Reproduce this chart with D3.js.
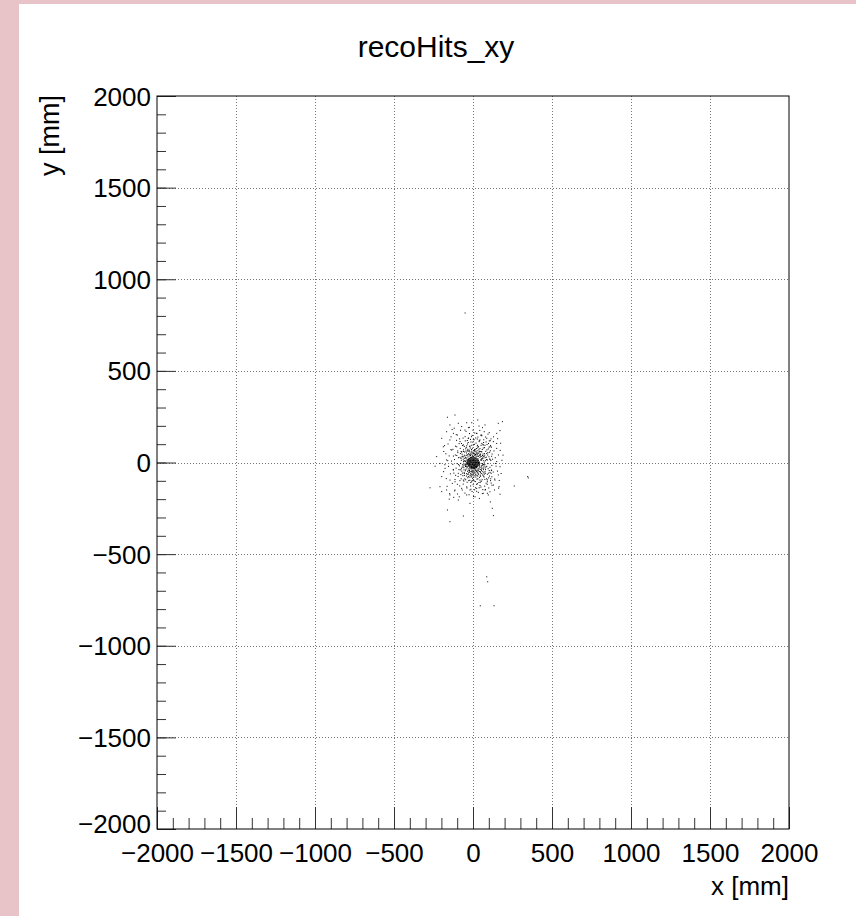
<!DOCTYPE html>
<html>
<head>
<meta charset="utf-8">
<script src="https://cdn.jsdelivr.net/npm/d3@7"></script>
<style>
  body { margin: 0; background: #fff; }
  svg text { font-family: "Liberation Sans", Arial, Helvetica, sans-serif; fill: #000; }
</style>
</head>
<body>
<div id="chart"></div>
<script>
// axis tick labels (mm)
var xTicks = [-2000, -1500, -1000, -500, 0, 500, 1000, 1500, 2000];
var yTicks = [-2000, -1500, -1000, -500, 0, 500, 1000, 1500, 2000];

// hits, [x mm, y mm]
// outer ring of the cluster
var ringHits = [
  [-162,247],[-114,259],[30,232],[186,223],[-93,214],[-40,217],[-8,217],[-146,205],
  [-72,196],[-23,192],[38,199],[76,205],[160,214],[-167,168],[-124,159],[-99,150],
  [-51,177],[23,159],[55,150],[103,163],[150,159],[171,174],[-198,132],[-146,123],
  [-82,114],[-30,132],[2,126],[44,123],[87,132],[129,114],[175,105],[-188,86],
  [-135,68],[-103,86],[-61,96],[-19,90],[27,90],[65,96],[108,86],[150,77],
  [-230,32],[-209,-5],[-167,14],[-124,35],[-82,28],[70,32],[108,17],[150,5],
  [171,-23],[-177,-32],[-124,-41],[-93,-59],[76,-50],[118,-41],[160,-68],[-198,-77],
  [-146,-96],[-114,-105],[-61,-96],[-8,-105],[44,-96],[91,-105],[139,-96],[-272,-138],
  [-209,-132],[-167,-150],[-114,-150],[-72,-141],[-19,-150],[23,-141],[76,-150],[129,-123],
  [165,-132],[-198,-159],[-146,-177],[-87,-187],[-40,-177],[13,-187],[65,-168],[97,-177],
  [171,-173],[-93,-205],[40,-196],[91,-168],[-162,-259],[-61,-292],[-146,-323],[122,-250],
  [129,-290],[-19,-223],[-240,-20],[-185,60],[190,40],[-150,-200],[110,-215],[60,190],
  [-178,-12],[-172,48],[-169,-88],[-158,101],[-155,-21],[-151,36],[-143,-62],[-139,140],
  [-136,8],[-131,-114],[-127,72],[-125,-38],[-119,187],[-116,-155],[-110,-70],[-106,152],
  [-103,38],[-98,-172],[-91,-11],[-88,103],[-84,-128],[-79,176],[-75,-89],[-72,57],
  [-68,-150],[-63,133],[-58,-101],[-55,88],[-51,-167],[-47,-12],[-44,170],[-40,-133],
  [-36,120],[-33,-83],[-29,190],[-25,-176],[-21,-8],[-17,79],[-13,-146],[-9,141],
  [-5,-98],[-1,111],[3,-185],[7,-16],[11,161],[15,-104],[19,58],[23,-157],
  [27,128],[31,-89],[35,-4],[39,-138],[43,175],[47,-107],[51,11],[55,146],
  [59,-170],[63,97],[67,-74],[71,168],[75,-12],[79,-148],[83,112],[87,49],
  [91,-95],[95,155],[99,-58],[103,118],[107,-160],[111,92],[115,-112],[119,-78],
  [124,18],[128,-52],[133,63],[137,-90],[141,26],[146,-20],[150,104],[155,-47],
  [161,41],[166,-98],[172,66],[178,-60],[183,12],[-186,-50],[-180,92],[-164,-130],
  [-160,10],[-148,-170],[-140,70],[-132,180],[-128,-10],[-122,-190],[130,140],[136,-150],
  [142,-5],[156,130],[162,-140]
];

// body of the cluster
var bodyHits = [
  [-112,41],[-97,63],[-86,-18],[-81,77],[-74,12],[-71,-47],[-66,93],[-64,-72],[-59,31],[-57,-14],
  [-53,57],[-52,-89],[-49,118],[-47,6],[-45,-37],[-43,82],[-41,-61],[-39,38],[-37,-108],[-35,101],
  [-33,-4],[-31,62],[-29,-77],[-28,133],[-25,21],[-23,-52],[-21,87],[-20,-97],[-17,46],[-15,-128],
  [-13,112],[-11,-66],[-9,71],[-7,-41],[-5,148],[-3,-86],[-1,51],[1,-121],[2,96],[5,-57],
  [7,124],[8,-101],[11,66],[12,-72],[15,41],[16,-138],[19,106],[21,-46],[22,76],[25,-91],
  [27,51],[28,-116],[31,139],[32,-61],[35,86],[36,-36],[39,114],[41,-81],[43,61],[44,-126],
  [47,36],[48,-51],[51,94],[53,-102],[55,21],[57,-31],[59,71],[61,-68],[63,46],[64,-11],
  [67,109],[69,-56],[71,2],[73,81],[75,-92],[77,26],[79,-39],[81,61],[83,-113],[85,16],
  [87,-21],[89,98],[91,-64],[93,41],[95,-6],[97,74],[99,-84],[101,31],[103,-44],[105,56],
  [107,-26],[109,119],[111,-99],[113,11],[115,-59],[117,84],[119,-16],[121,46],
  [-121,-58],[-117,16],[-114,-93],[-111,89],[-107,-31],[-104,121],[-101,-6],[-99,-119],[-96,54],[-94,-76],
  [-92,26],[-89,-39],[-85,129],[-83,-99],[-80,49],[-77,-66],[-73,104],[-69,-26],[-67,34],[-62,-118],
  [-60,69],[-56,-54],[-54,9],[-50,141],[-46,-94],[-44,24],[-42,-21],[-40,91],[-38,-139],[-36,64],
  [-34,-64],[-32,14],[-30,109],[-27,-99],[-26,-34],[-24,44],[-22,158],[-19,-69],[-18,4],[-16,126],
  [-14,-109],[-12,29],[-10,-24],[-8,94],[-6,-158],[-4,34],[-2,-64],[0,176],[3,-94],[4,64],
  [6,-29],[9,99],[10,-149],[13,44],[14,-44],[17,134],[18,-79],[20,29],[23,-119],[24,159],
  [26,-19],[29,94],[30,-74],[33,34],[34,-163],[37,69],[38,-109],[40,119],[42,-14],[45,44],
  [46,-69],[49,149],[50,-134],[52,59],[54,-19],[56,104],[58,-94],[60,24],[62,-148],[65,79],
  [66,-39],[68,124],[70,-79],[72,49],[74,-129],[76,94],[78,-59],[80,139],[82,-24],[84,29],
  [86,-89],[88,69],[90,-119],[92,14],[94,54],[96,-34],[98,104],[100,-139],[102,84],[104,-74],
  [106,19],[108,-54],[110,64],[112,-89],[114,129],[116,-44],[118,34],[120,-124],
  [-62,18],[-58,-28],[-55,40],[-51,-8],[-48,-45],[-46,27],[-43,-3],[-41,52],[-39,-30],[-36,43],
  [-34,-48],[-32,30],[-30,-42],[-28,48],[-26,-55],[-24,36],[-22,-44],[-20,58],[-18,-50],[-16,38],
  [-14,-60],[-12,45],[-10,-48],[-8,62],[-6,-53],[-4,40],[-2,-46],[0,55],[2,-42],[4,48],
  [6,-61],[8,37],[10,-52],[12,59],[14,-39],[16,44],[18,-57],[20,35],[22,-48],[24,52],
  [26,-36],[28,42],[30,-54],[32,33],[34,-45],[36,50],[38,-31],[40,39],[42,-49],[44,28],
  [46,-38],[48,46],[50,-26],[52,33],[54,-44],[56,15],[58,-17],[60,38],[62,-8],[64,24],
  [66,-30],[68,10],[-65,-12],[-60,4],[-57,-40],[-52,22],[-47,-22],[-44,10],[-40,-12],[-70,30],
  [70,-20],[55,-60],[-55,-60],[45,60],[-45,62],[0,-72],[10,70],[-10,-78],[25,-70],[-25,68],
  [-78,-5],[-76,22],[-73,-34],[-69,45],[-67,-58],[-63,-20],[-61,60],[-58,8],[-54,-70],[-50,36],
  [-48,-18],[-46,75],[-42,-74],[-38,18],[-35,-24],[-33,72],[-29,-63],[-27,-14],[-24,63],[-20,-36],
  [-17,28],[-13,-72],[-11,53],[-7,-28],[-4,78],[-1,-52],[2,33],[5,-80],[8,48],[11,-34],
  [14,72],[17,-66],[20,46],[23,-28],[26,64],[29,-46],[32,20],[35,-64],[38,57],[41,-24],
  [44,76],[47,-56],[50,16],[53,-36],[56,58],[59,-6],[62,-50],[65,35],[68,-12],[71,-64],
  [74,40],[77,-30],[80,10],[-80,-40],[-75,60],[48,-75],[-20,-80],[30,80]
];

// dense black core
var coreHits = [
  [-12,27],[-6,28],[1,26],[7,27],[13,26],
  [-24,22],[-18,21],[-12,22],[-6,23],[0,22],[6,21],[12,22],[18,22],[25,21],
  [-30,16],[-24,17],[-18,16],[-12,16],[-6,17],[0,16],[6,15],[12,16],[19,17],[25,16],[31,15],
  [-33,11],[-27,10],[-21,11],[-15,11],[-9,10],[-3,11],[3,11],[9,12],[15,11],[21,10],[27,11],[34,11],
  [-36,5],[-30,6],[-24,5],[-18,5],[-12,6],[-6,5],[0,5],[6,6],[12,5],[18,5],[24,4],[30,5],[37,6],
  [-38,0],[-32,-1],[-26,0],[-20,1],[-14,0],[-8,0],[-2,-1],[4,0],[10,1],[16,0],[22,0],[28,-1],[35,0],[41,1],
  [-36,-5],[-30,-6],[-24,-5],[-18,-5],[-12,-4],[-6,-5],[0,-6],[6,-5],[12,-5],[18,-4],[24,-5],[30,-6],[37,-5],[43,-5],
  [-33,-11],[-27,-10],[-21,-11],[-15,-11],[-9,-12],[-3,-11],[3,-10],[9,-11],[15,-11],[21,-12],[27,-11],[33,-10],[40,-11],
  [-30,-16],[-24,-17],[-18,-16],[-12,-16],[-6,-15],[0,-16],[6,-17],[12,-16],[18,-16],[24,-15],[31,-16],[37,-17],
  [-26,-22],[-20,-21],[-14,-22],[-8,-22],[-2,-23],[4,-22],[10,-21],[16,-22],[22,-22],[29,-21],
  [-20,-27],[-14,-28],[-8,-27],[-2,-27],[4,-28],[10,-27],[16,-26],[23,-27],
  [-12,-33],[-6,-32],[0,-33],[7,-33],[13,-32]
];

// isolated hits away from the cluster
var strayHits = [
  [-50,816],[87,-624],[93,-651],[46,-782],[133,-782],[346,-77],[350,-84],[261,-128]
];

var width = 856, height = 916;
var margin = {top: 96, right: 67, bottom: 87, left: 157};

var svg = d3.select("#chart").append("svg")
    .attr("width", width)
    .attr("height", height);

// canvas border strips
svg.append("rect").attr("x", 0).attr("y", 0).attr("width", width).attr("height", height).attr("fill", "#fff");
svg.append("rect").attr("x", 0).attr("y", 0).attr("width", 19).attr("height", height).attr("fill", "#e8c4c8");
svg.append("rect").attr("x", 0).attr("y", 0).attr("width", width).attr("height", 4).attr("fill", "#e8c4c8");

var x = d3.scaleLinear().domain([-2000, 2000]).range([margin.left, width - margin.right]);
var y = d3.scaleLinear().domain([-2000, 2000]).range([height - margin.bottom, margin.top]);

var x0 = x.range()[0], x1 = x.range()[1];
var y0 = y.range()[1], y1 = y.range()[0];

// dotted grid
svg.append("g").selectAll("line")
    .data(xTicks.slice(1, -1))
    .enter().append("line")
    .attr("x1", function(d) { return Math.round(x(d)) + 0.5; })
    .attr("x2", function(d) { return Math.round(x(d)) + 0.5; })
    .attr("y1", y0).attr("y2", y1)
    .attr("stroke", "#777").attr("stroke-dasharray", "1,2");

svg.append("g").selectAll("line")
    .data(yTicks.slice(1, -1))
    .enter().append("line")
    .attr("y1", function(d) { return Math.round(y(d)) + 0.5; })
    .attr("y2", function(d) { return Math.round(y(d)) + 0.5; })
    .attr("x1", x0).attr("x2", x1)
    .attr("stroke", "#777").attr("stroke-dasharray", "1,2");

// hits
var allHits = ringHits.concat(bodyHits, coreHits, strayHits);
svg.append("g").selectAll("rect")
    .data(allHits)
    .enter().append("rect")
    .attr("x", function(d) { return x(d[0]) - 0.5; })
    .attr("y", function(d) { return y(d[1]) - 0.5; })
    .attr("width", 1)
    .attr("height", 1)
    .attr("fill", "#000");

var fmt = d3.format("d");
var minor = d3.range(-2000, 2001, 100);

// x axis: ticks point up into the frame
var xMinor = svg.append("g")
    .attr("transform", "translate(0," + y1 + ")")
    .call(d3.axisBottom(x).tickValues(minor).tickSize(-11).tickFormat(""));
var xAxis = svg.append("g")
    .attr("transform", "translate(0," + y1 + ")")
    .call(d3.axisBottom(x).tickValues(xTicks).tickSize(-22).tickPadding(11).tickFormat(fmt));

// y axis: ticks point right into the frame
var yMinor = svg.append("g")
    .attr("transform", "translate(" + x0 + ",0)")
    .call(d3.axisLeft(y).tickValues(minor).tickSize(-9).tickFormat(""));
var yAxis = svg.append("g")
    .attr("transform", "translate(" + x0 + ",0)")
    .call(d3.axisLeft(y).tickValues(yTicks).tickSize(-19).tickPadding(7).tickFormat(fmt));

[xMinor, xAxis, yMinor, yAxis].forEach(function(g) {
    g.select(".domain").remove();
    g.selectAll("line").attr("stroke", "#333");
});
xAxis.selectAll("text").style("font-size", "26px").attr("y", 15).attr("dy", "0.71em");
yAxis.selectAll("text").style("font-size", "26px").attr("x", -6)
    .attr("dy", function(d) { return d === -2000 ? "0.15em" : "0.35em"; });

// frame
svg.append("rect")
    .attr("x", x0).attr("y", y0)
    .attr("width", x1 - x0).attr("height", y1 - y0)
    .attr("fill", "none").attr("stroke", "#000");

// title and axis labels
svg.append("text")
    .attr("x", 436).attr("y", 57)
    .style("text-anchor", "middle")
    .style("font-size", "30px")
    .text("recoHits_xy");

svg.append("text")
    .attr("x", x1).attr("y", 895)
    .style("text-anchor", "end")
    .style("font-size", "26px")
    .text("x [mm]");

svg.append("text")
    .attr("transform", "translate(59," + (y0 - 1) + ") rotate(-90)")
    .style("text-anchor", "end")
    .style("font-size", "27px")
    .text("y [mm]");
</script>
</body>
</html>
